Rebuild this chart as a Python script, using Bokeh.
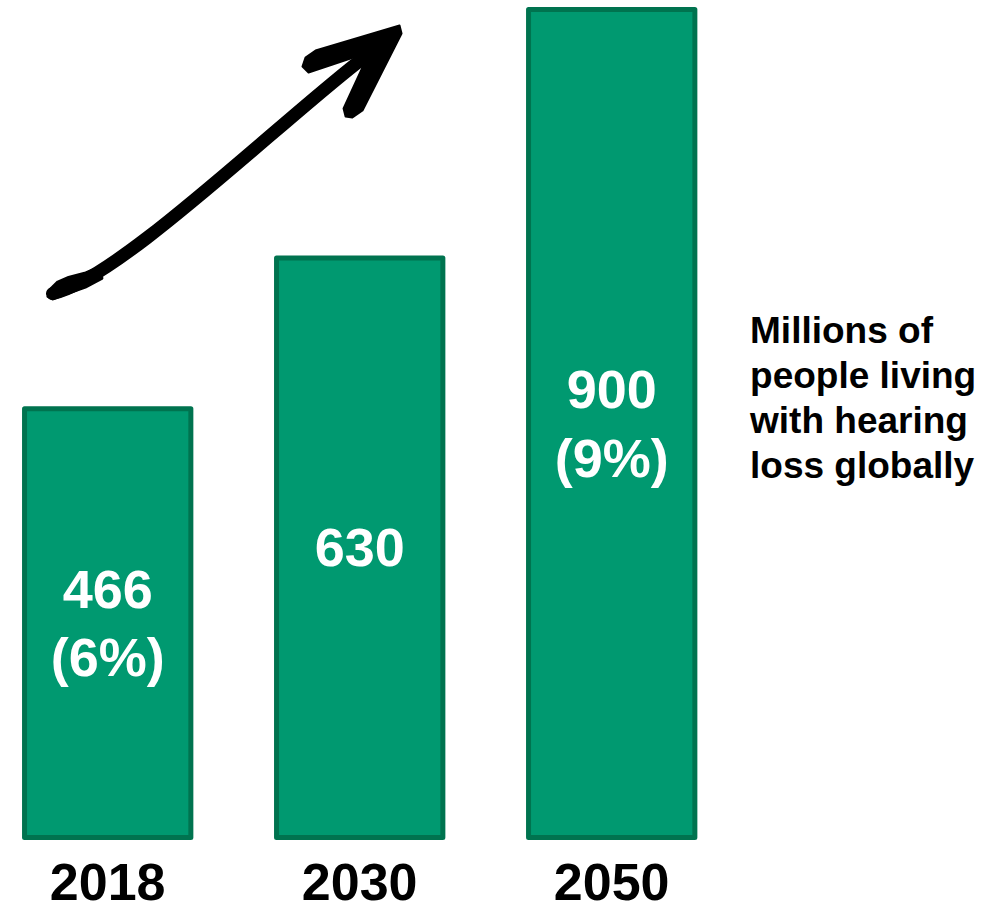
from bokeh.plotting import figure
from bokeh.models import ColumnDataSource, Range1d
from bokeh.core.properties import value
from bokeh.embed import file_html
from bokeh.resources import INLINE

# ---- data ----
years = ["2018", "2030", "2050"]
values = [466, 630, 900]
shares = ["(6%)", "", "(9%)"]
note_lines = ["Millions of", "people living", "with hearing", "loss globally"]

# decorative "growth" arrow (data coordinates)
arrow_start = (-0.219, 591.3)
arrow_ctrl1 = (0.031, 605.4)
arrow_ctrl2 = (0.646, 768.5)
arrow_end = (0.991, 842.4)
arrow_head_x = [1.158, 0.825, 0.785, 0.773, 0.797, 0.975, 1.011, 0.936, 0.944, 0.971, 1.011, 1.166]
arrow_head_y = [882.6, 855.4, 847.8, 838.0, 831.5, 847.8, 837.0, 792.4, 783.7, 782.6, 790.2, 873.9]
arrow_tail_x = [-0.239, -0.227, -0.199, -0.156, -0.088, -0.029, -0.021, -0.088, -0.167, -0.219]
arrow_tail_y = [588.0, 596.7, 604.3, 609.2, 614.1, 620.7, 607.6, 597.8, 590.2, 584.8]

FONT = value("Liberation Sans")
FILL = "#009970"
EDGE = "#00734F"

xs = list(range(len(years)))

p = figure(width=1001, height=907,
           x_range=Range1d(-0.4254, 3.5468), y_range=Range1d(-76.1, 909.8),
           x_axis_location=None, y_axis_location=None,
           toolbar_location=None, output_backend="svg",
           min_border=0, outline_line_color=None)
p.background_fill_color = "white"
p.border_fill_color = "white"
p.grid.visible = False

# bars
bars = ColumnDataSource(dict(x=xs, top=values, year=years))
p.vbar(x="x", top="top", bottom=0, width=0.66, source=bars,
       fill_color=FILL, line_color=EDGE, line_width=5, line_join="round")

# value labels inside bars
lx, ly, lt, lo = [], [], [], []
for i, (v, s) in enumerate(zip(values, shares)):
    if s:
        lx += [i, i]; ly += [v / 2, v / 2]; lt += [str(v), s]; lo += [-34, 34]
    else:
        lx.append(i); ly.append(v / 2); lt.append(str(v)); lo.append(0)
lab = ColumnDataSource(dict(x=lx, y=ly, t=lt, o=lo))
p.text(x="x", y="y", text="t", y_offset="o", source=lab,
       text_font=FONT, text_font_style="bold", text_font_size="54px",
       text_color="white", text_align="center", text_baseline="middle")

# year labels under bars
p.text(x="x", y=0, text="year", source=bars, y_offset=45,
       text_font=FONT, text_font_style="bold", text_font_size="52px",
       text_color="black", text_align="center", text_baseline="middle")

# side note
note = ColumnDataSource(dict(x=[2.549] * len(note_lines), y=[551.0] * len(note_lines),
                             t=note_lines, o=[45 * i for i in range(len(note_lines))]))
p.text(x="x", y="y", text="t", y_offset="o", source=note,
       text_font=FONT, text_font_style="bold", text_font_size="37px",
       text_color="black", text_align="left", text_baseline="alphabetic")

# arrow
p.bezier(x0=[arrow_start[0]], y0=[arrow_start[1]], x1=[arrow_end[0]], y1=[arrow_end[1]],
         cx0=[arrow_ctrl1[0]], cy0=[arrow_ctrl1[1]], cx1=[arrow_ctrl2[0]], cy1=[arrow_ctrl2[1]],
         line_color="black", line_width=13, line_cap="round")
p.patch(x=arrow_head_x, y=arrow_head_y, fill_color="black", line_color="black",
        line_width=2, line_join="round")
p.patch(x=arrow_tail_x, y=arrow_tail_y, fill_color="black", line_color="black",
        line_width=2, line_join="round")

open("out.html", "w").write(file_html(p, INLINE))
